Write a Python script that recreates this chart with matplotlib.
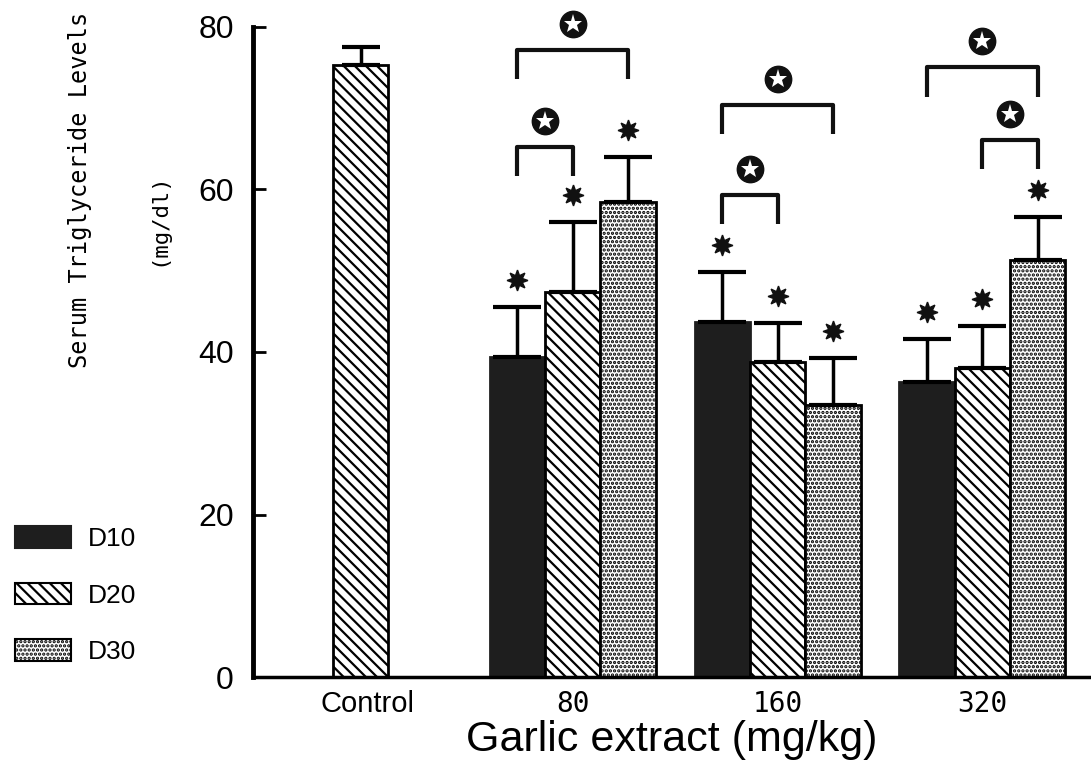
import matplotlib.pyplot as plt
import numpy as np
from matplotlib.patches import Patch

# data
groups = ['Control', '80', '160', '320']
control_mean = 75.3
control_err = 2.2
series = ['D10', 'D20', 'D30']
d10_mean = [39.4, 43.7, 36.3]
d10_err = [6.1, 6.1, 5.3]
d20_mean = [47.4, 38.8, 38.0]
d20_err = [8.6, 4.8, 5.2]
d30_mean = [58.5, 33.5, 51.3]
d30_err = [5.5, 5.8, 5.3]
# significance brackets: (group index, bar a, bar b, height)
brackets = [(1, 0, 2, 77.2), (1, 0, 1, 65.2),
            (2, 0, 2, 70.4), (2, 0, 1, 59.3),
            (3, 0, 2, 75.0), (3, 1, 2, 66.1)]

mono = ['DejaVu Sans Mono', 'Liberation Mono']
sans = ['Liberation Sans', 'DejaVu Sans']
plt.rcParams['hatch.linewidth'] = 1.6

fig = plt.figure(figsize=(10.91, 7.66), dpi=100)
ax = fig.add_axes([0.232, 0.116, 0.768, 0.849])

w = 0.27
styles = [dict(color='#1e1e1e', edgecolor='#1e1e1e'),
          dict(color='white', edgecolor='black', hatch='\\\\\\'),
          dict(color='white', edgecolor='black', hatch='....')]
ekw = dict(ecolor='black', elinewidth=2.5, capthick=3)

# control bar
ax.bar(-0.035, control_mean, w, yerr=[[0], [control_err]], capsize=14,
       linewidth=2, error_kw=ekw, **styles[1])

gx = np.arange(1, 4)
means = [d10_mean, d20_mean, d30_mean]
errs = [d10_err, d20_err, d30_err]
for i in range(3):
    xs = gx + (i - 1) * w
    ax.bar(xs, means[i], w, yerr=[[0] * 3, errs[i]], capsize=17,
           linewidth=2, error_kw=ekw, **styles[i])
    tops = np.array(means[i]) + np.array(errs[i]) + 3.3
    ax.plot(xs, tops, linestyle='none', marker=(8, 1, 0), markersize=15,
            color='#111', clip_on=False)

for g, a, b, h in brackets:
    xa = g + (a - 1) * w
    xb = g + (b - 1) * w
    ax.plot([xa, xa, xb, xb], [h - 3.6, h, h, h - 3.6], color='#111',
            linewidth=3, clip_on=False, solid_capstyle='butt')
    xm = (xa + xb) / 2
    ax.plot(xm, h + 3.2, marker='o', markersize=19, color='#111',
            clip_on=False)
    ax.plot(xm, h + 3.2, marker='*', markersize=14, color='white',
            markeredgewidth=0, clip_on=False)

ax.set_xlim(-0.56, 3.53)
ax.set_ylim(0, 80)
ax.set_yticks([0, 20, 40, 60, 80])
ax.set_xticks(range(4))
ax.set_xticklabels(groups)
ax.tick_params(axis='x', length=0, pad=9, labelsize=21)
ax.tick_params(axis='y', direction='in', length=9, width=2, labelsize=23,
               pad=14)
for k, lab in enumerate(ax.get_xticklabels()):
    lab.set_family(sans if k == 0 else mono)
    if k > 0:
        lab.set_fontsize(20)
for lab in ax.get_yticklabels():
    lab.set_family(sans)

for s in ['top', 'right']:
    ax.spines[s].set_visible(False)
ax.spines['left'].set_linewidth(3.5)
ax.spines['bottom'].set_linewidth(2.5)

ax.set_xlabel('Garlic extract (mg/kg)', fontsize=31, family=sans,
              labelpad=2)
fig.text(0.073, 0.752, 'Serum Triglyceride Levels', rotation=90,
         fontsize=17, family=mono, ha='center', va='center')
fig.text(0.145, 0.714, '(mg/dl)', rotation=90, fontsize=16, family=mono,
         ha='center', va='center')

handles = [Patch(facecolor=st['color'], edgecolor=st['edgecolor'],
                 hatch=st.get('hatch'), linewidth=1.5) for st in styles]
fig.legend(handles, series, loc='upper left',
           bbox_to_anchor=(0.002, 0.33), frameon=False,
           handlelength=2.1, handleheight=0.87, labelspacing=1.2,
           handletextpad=0.65, borderpad=0, prop={'family': sans, 'size': 19})

fig.savefig('out.png', dpi=100)
